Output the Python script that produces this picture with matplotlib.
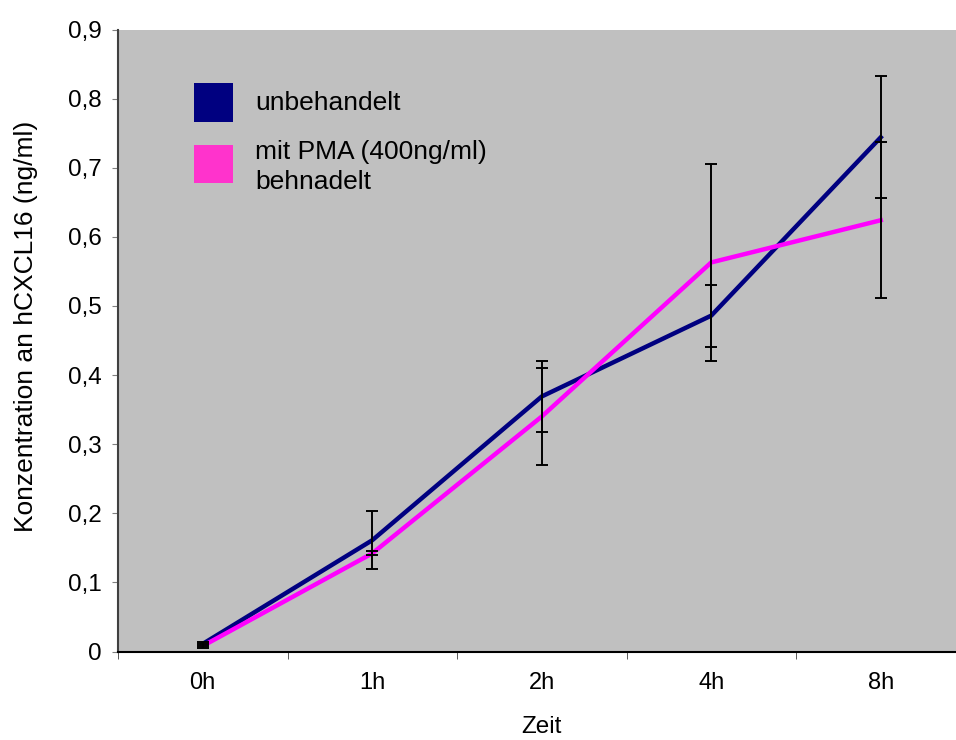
import matplotlib
matplotlib.use("Agg")
import matplotlib.pyplot as plt
from matplotlib.patches import Rectangle

plt.rcParams['font.family'] = ['Liberation Sans', 'DejaVu Sans']

categories = ["0h", "1h", "2h", "4h", "8h"]
unbehandelt = [0.011, 0.161, 0.369, 0.486, 0.744]
unbehandelt_err = [0.003, 0.042, 0.051, 0.045, 0.088]
pma = [0.008, 0.142, 0.340, 0.563, 0.624]
pma_err = [0.003, 0.003, 0.070, 0.142, 0.113]
yticks = [0, 0.1, 0.2, 0.3, 0.4, 0.5, 0.6, 0.7, 0.8, 0.9]
ytick_labels = ["0", "0,1", "0,2", "0,3", "0,4", "0,5", "0,6", "0,7", "0,8", "0,9"]

W, H = 956, 740
fig = plt.figure(figsize=(W / 100, H / 100), dpi=100)
left, right, top, bottom = 118, 965.5, 29.5, 651.5
ax = fig.add_axes([left / W, 1 - bottom / H, (right - left) / W, (bottom - top) / H])
ax.set_facecolor("#C0C0C0")

x = list(range(len(categories)))
ax.plot(x, unbehandelt, color="#000080", lw=3.2, zorder=3)
ax.plot(x, pma, color="#FF00FF", lw=3.2, zorder=3)
ax.errorbar(x, unbehandelt, yerr=unbehandelt_err, fmt="none", ecolor="black",
            elinewidth=1.4, capsize=4, capthick=1.4, zorder=4)
ax.errorbar(x, pma, yerr=pma_err, fmt="none", ecolor="black",
            elinewidth=1.4, capsize=4, capthick=1.4, zorder=4)

ax.set_xlim(-0.5, len(categories) - 0.5)
ax.set_ylim(0, 0.9)
ax.set_yticks(yticks)
ax.set_yticklabels(ytick_labels, fontsize=17.5)
ax.set_xticks(x)
ax.set_xticklabels(categories, fontsize=17)
ax.set_xticks([i + 0.5 for i in range(len(categories) - 1)] + [-0.5], minor=True)
ax.tick_params(axis="x", which="major", length=0, pad=15)
ax.tick_params(axis="x", which="minor", length=5, color="#404040")
ax.tick_params(axis="y", length=4, color="#808080", pad=8)

for s in ["top", "right"]:
    ax.spines[s].set_visible(False)
ax.spines["left"].set_color("#404040")
ax.spines["bottom"].set_color("black")
ax.spines["left"].set_linewidth(1.5)
ax.spines["bottom"].set_linewidth(1.5)

ax.set_ylabel("Konzentration an hCXCL16 (ng/ml)", fontsize=19)
ax.yaxis.set_label_coords(-0.094, 0.523)
ax.set_xlabel("Zeit", fontsize=17.5)
ax.xaxis.set_label_coords(0.5, -(716 - bottom) / (bottom - top))

# legend
fig.patches.append(Rectangle((194 / W, 1 - 122 / H), 39 / W, 39 / H, transform=fig.transFigure,
                             facecolor="#000080", edgecolor="none"))
fig.patches.append(Rectangle((194 / W, 1 - 183 / H), 39 / W, 38 / H, transform=fig.transFigure,
                             facecolor="#FF33CC", edgecolor="none"))
fig.text(255 / W, 1 - 110 / H, "unbehandelt", fontsize=19, va="baseline", ha="left")
fig.text(255 / W, 1 - 159 / H, "mit PMA (400ng/ml)", fontsize=19, va="baseline", ha="left")
fig.text(255 / W, 1 - 189 / H, "behnadelt", fontsize=19, va="baseline", ha="left")

fig.savefig("out.png", dpi=100)
